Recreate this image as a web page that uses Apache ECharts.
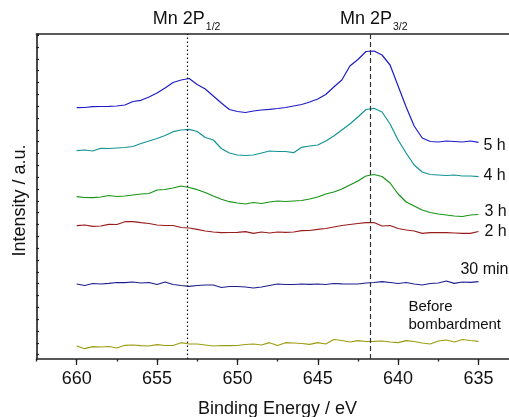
<!DOCTYPE html>
<html>
<head>
<meta charset="utf-8">
<script src="https://cdn.jsdelivr.net/npm/echarts@6/dist/echarts.min.js"></script>
<style>
  html, body { margin: 0; padding: 0; background: #fff; }
  #chart { width: 509px; height: 417px; }
</style>
</head>
<body>
<div id="chart"></div>
<script>
// Binding energy grid (eV), shared by all spectra
const energies = [660, 659.5, 659, 658.5, 658, 657.5, 657, 656.5, 656, 655.5,
  655, 654.5, 654, 653.5, 653, 652.5, 652, 651.5, 651, 650.5,
  650, 649.5, 649, 648.5, 648, 647.5, 647, 646.5, 646, 645.5,
  645, 644.5, 644, 643.5, 643, 642.5, 642, 641.5, 641, 640.5,
  640, 639.5, 639, 638.5, 638, 637.5, 637, 636.5, 636, 635.5, 635];

// Intensity (a.u., vertically stacked) for each bombardment time
const int5h = [251.3, 251.5, 252.3, 252.5, 252.7, 253, 254, 257.5, 258.7, 262,
  266, 271, 276.5, 279, 280.5, 274.5, 270, 263, 256, 249.5,
  247.5, 246.5, 248, 249, 249.7, 250.5, 251.5, 253, 254.5, 257,
  260, 264.5, 272, 279, 293, 299.5, 307.5, 308, 304, 294,
  273, 252, 233, 221, 217.5, 217, 218, 217.5, 217, 218, 216.7];
const int4h = [208.3, 209, 208, 210.7, 210.5, 211, 211.5, 212.5, 215.5, 218,
  220.5, 223.5, 227.3, 229, 229.7, 227.5, 221.5, 219, 210.5, 206,
  204, 203.5, 204, 206, 208, 207.5, 207.5, 206.3, 211.7, 213,
  214, 218, 223, 229, 235, 242, 249.5, 250.7, 247, 235,
  219, 206, 194, 187, 184.5, 184, 183.5, 184, 183, 183, 182.3];
const int3h = [162.3, 161.5, 161.3, 162, 163.5, 162.5, 163, 164, 165, 165.5,
  169, 169.5, 171, 173, 171.5, 169.3, 166.5, 163, 159.7, 157.3,
  156, 155, 156.5, 155.5, 157, 158, 157.5, 158, 158.5, 160,
  162, 165, 167, 170, 174, 178, 183, 184.5, 182.5, 176,
  165, 157, 153, 149, 146.5, 145, 144, 143, 142.5, 144, 144.5];
const int2h = [133.3, 134, 132.7, 133, 134.7, 134.5, 137.3, 137.3, 136.3, 135.5,
  134, 133.5, 133.5, 131.5, 131, 129.7, 128, 127, 126.3, 126.5,
  126.7, 127.3, 125.7, 127, 126, 127, 126.7, 127, 128.3, 128.5,
  129.7, 130.5, 132, 133.5, 134.5, 135.5, 136.3, 136.5, 133, 133.5,
  130.5, 129, 128, 125.7, 126.3, 126.5, 126.3, 126, 125.7, 125.7, 127.5];
const int30min = [75, 73.5, 75.5, 75, 75.7, 76.5, 76.3, 77, 76, 76.5,
  74.5, 77, 74.5, 73.5, 72.7, 73.5, 74, 74, 71.5, 72.5,
  72.5, 72, 71, 72, 73.5, 75, 74.5, 74.5, 75, 74.7,
  75, 74.5, 75.5, 75.2, 75, 75, 76, 76.5, 77.3, 76.5,
  75.5, 76.5, 75, 74, 75.5, 76, 78, 75.7, 77, 76.7, 77.3];
const intBefore = [13, 10.3, 12.3, 12, 12.5, 11, 13.7, 14, 13.3, 13,
  14.3, 13.5, 13.5, 16.3, 15, 15, 14, 13, 13.5, 13.3,
  13.5, 14.5, 15, 14, 16.3, 13.5, 16.3, 16, 15.5, 14.7,
  16.3, 15, 19.5, 18.5, 17, 18.3, 17.5, 17.7, 18, 17,
  16.3, 18.3, 17.5, 16, 15, 18, 19, 17, 19.5, 18.5, 17.7];

const seriesNames = ['5 h', '4 h', '3 h', '2 h', '30 min', 'Before\nbombardment'];
const seriesValues = [int5h, int4h, int3h, int2h, int30min, intBefore];
const seriesColors = ['#1c1cc8', '#149494', '#179417', '#981c1c', '#1e1e8e', '#9c9c12'];

// Peak positions of the Mn 2p doublet (eV) and their labels
const peakEnergies = [653.15, 641.75];
const peakMain = ['Mn 2P', 'Mn 2P'];
const peakSub = ['1/2', '3/2'];

// Energy axis: visible range, minor-tick range and labelled range
const xMin = 633.1, xMax = 662.5;
const xMinorMin = 635, xMinorStep = 2.5;
const xLabelMin = 635, xLabelMax = 660, xLabelStep = 5;

const FONT = "'Liberation Sans', Arial, Helvetica, sans-serif";
const chart = echarts.init(document.getElementById('chart'), null, { renderer: 'canvas' });

const W = 509;
const gridLeft = 36.5, gridTop = 34, gridH = 325;
const pxPerEv = (W - gridLeft) / (xMax - xMin);
const xPix = e => gridLeft + (xMax - e) * pxPerEv;

const series = seriesValues.map((vals, i) => ({
  name: seriesNames[i],
  type: 'line',
  xAxisIndex: 0,
  yAxisIndex: 0,
  showSymbol: false,
  symbol: 'none',
  data: energies.map((e, k) => [e, vals[k]]),
  lineStyle: { color: seriesColors[i], width: 1.2 },
  itemStyle: { color: seriesColors[i] },
  z: 3,
  markLine: i === 0 ? {
    silent: true,
    symbol: 'none',
    label: { show: false },
    animation: false,
    data: [
      { xAxis: peakEnergies[0], lineStyle: { type: [1.5, 2.5], color: '#111', width: 1.2 } },
      { xAxis: peakEnergies[1], lineStyle: { type: [5, 3], color: '#333', width: 1.2 } }
    ]
  } : undefined
}));

const gridBase = { top: gridTop, containLabel: false, outerBoundsMode: 'none' };

chart.setOption({
  animation: false,
  backgroundColor: '#fff',
  textStyle: { fontFamily: FONT },
  grid: [
    // main plotting area
    Object.assign({ left: gridLeft, right: 0, height: gridH }, gridBase),
    // labelled major ticks, 660 ... 635
    Object.assign({ left: xPix(xLabelMax), width: xPix(xLabelMin) - xPix(xLabelMax), height: gridH }, gridBase),
    // intensity ticks
    Object.assign({ left: gridLeft, width: 10, height: gridH - 4.4 }, gridBase),
    // minor energy ticks every 2.5 eV
    Object.assign({ left: gridLeft, width: xPix(xMinorMin) - gridLeft, height: gridH }, gridBase)
  ],
  xAxis: [
    { type: 'value', gridIndex: 0, min: xMin, max: xMax, inverse: true,
      axisLine: { show: true, onZero: false, lineStyle: { color: '#222', width: 1.6 } },
      axisTick: { show: false }, axisLabel: { show: false }, splitLine: { show: false } },
    { type: 'value', gridIndex: 0, position: 'top', min: xMin, max: xMax, inverse: true,
      axisLine: { show: true, onZero: false, lineStyle: { color: '#5a5a5a', width: 2 } },
      axisTick: { show: false }, axisLabel: { show: false }, splitLine: { show: false } },
    { type: 'value', gridIndex: 1, min: xLabelMin, max: xLabelMax, inverse: true, interval: xLabelStep,
      axisLine: { show: false, onZero: false },
      axisTick: { show: true, inside: false, length: 6, lineStyle: { color: '#222', width: 1.3 } },
      axisLabel: { show: true, margin: 11, fontSize: 18, color: '#111', fontFamily: FONT },
      splitLine: { show: false },
      name: 'Binding Energy / eV', nameLocation: 'middle', nameGap: 41,
      nameTextStyle: { fontSize: 18, color: '#111', fontFamily: FONT } },
    { type: 'value', gridIndex: 2, show: false },
    { type: 'value', gridIndex: 3, min: xMinorMin, max: xMax, inverse: true, interval: xMinorStep,
      axisLine: { show: false, onZero: false },
      axisTick: { show: true, inside: false, length: 2.5, lineStyle: { color: '#222', width: 1.3 } },
      axisLabel: { show: false }, splitLine: { show: false } }
  ],
  yAxis: [
    { type: 'value', gridIndex: 0, min: 0, max: gridH,
      axisLine: { show: true, onZero: false, lineStyle: { color: '#111', width: 1.5 } },
      axisTick: { show: false }, axisLabel: { show: false }, splitLine: { show: false },
      name: 'Intensity / a.u.', nameLocation: 'middle', nameGap: 7,
      nameTextStyle: { fontSize: 18, color: '#111', fontFamily: FONT, padding: [0, 8, 0, 0] } },
    { type: 'value', gridIndex: 1, show: false, min: 0, max: gridH },
    { type: 'value', gridIndex: 2, min: 0, max: gridH - 4.4, interval: 11.83,
      axisLine: { show: false, onZero: false },
      axisTick: { show: true, inside: true, length: 2.5, lineStyle: { color: '#222', width: 1.3 } },
      axisLabel: { show: false }, splitLine: { show: false } },
    { type: 'value', gridIndex: 3, show: false, min: 0, max: gridH }
  ],
  series: series
});

// Text annotations placed relative to the drawn data
const ctx = document.createElement('canvas').getContext('2d');
ctx.font = '18px ' + FONT;
const graphics = [];
const peakShift = [-34, -30];
peakEnergies.forEach((e, i) => {
  const px = chart.convertToPixel({ gridIndex: 0 }, [e, 0])[0];
  const left = px + peakShift[i];
  const w = ctx.measureText(peakMain[i]).width;
  graphics.push({ type: 'text', x: left, y: 18.7, silent: true,
    style: { text: peakMain[i], fontSize: 18, fontFamily: FONT, fill: '#111', align: 'left', verticalAlign: 'middle' } });
  graphics.push({ type: 'text', x: left + w + 1, y: 27, silent: true,
    style: { text: peakSub[i], fontSize: 10.5, fontFamily: FONT, fill: '#111', align: 'left', verticalAlign: 'middle' } });
});

const endOffsets = [[5, 3], [5, -1.5], [6, -3], [6, 0], [-18, -12.5], [-70, -25.6]];
const endSizes = [16, 16, 16, 16, 16, 15];
seriesValues.forEach((vals, i) => {
  const last = vals.length - 1;
  const p = chart.convertToPixel({ gridIndex: 0 }, [energies[last], vals[last]]);
  graphics.push({ type: 'text', x: p[0] + endOffsets[i][0], y: p[1] + endOffsets[i][1], silent: true,
    style: { text: seriesNames[i], fontSize: endSizes[i], lineHeight: 17.5, fontFamily: FONT, fill: '#111',
      align: 'left', verticalAlign: 'middle' } });
});
chart.setOption({ graphic: graphics });
</script>
</body>
</html>
